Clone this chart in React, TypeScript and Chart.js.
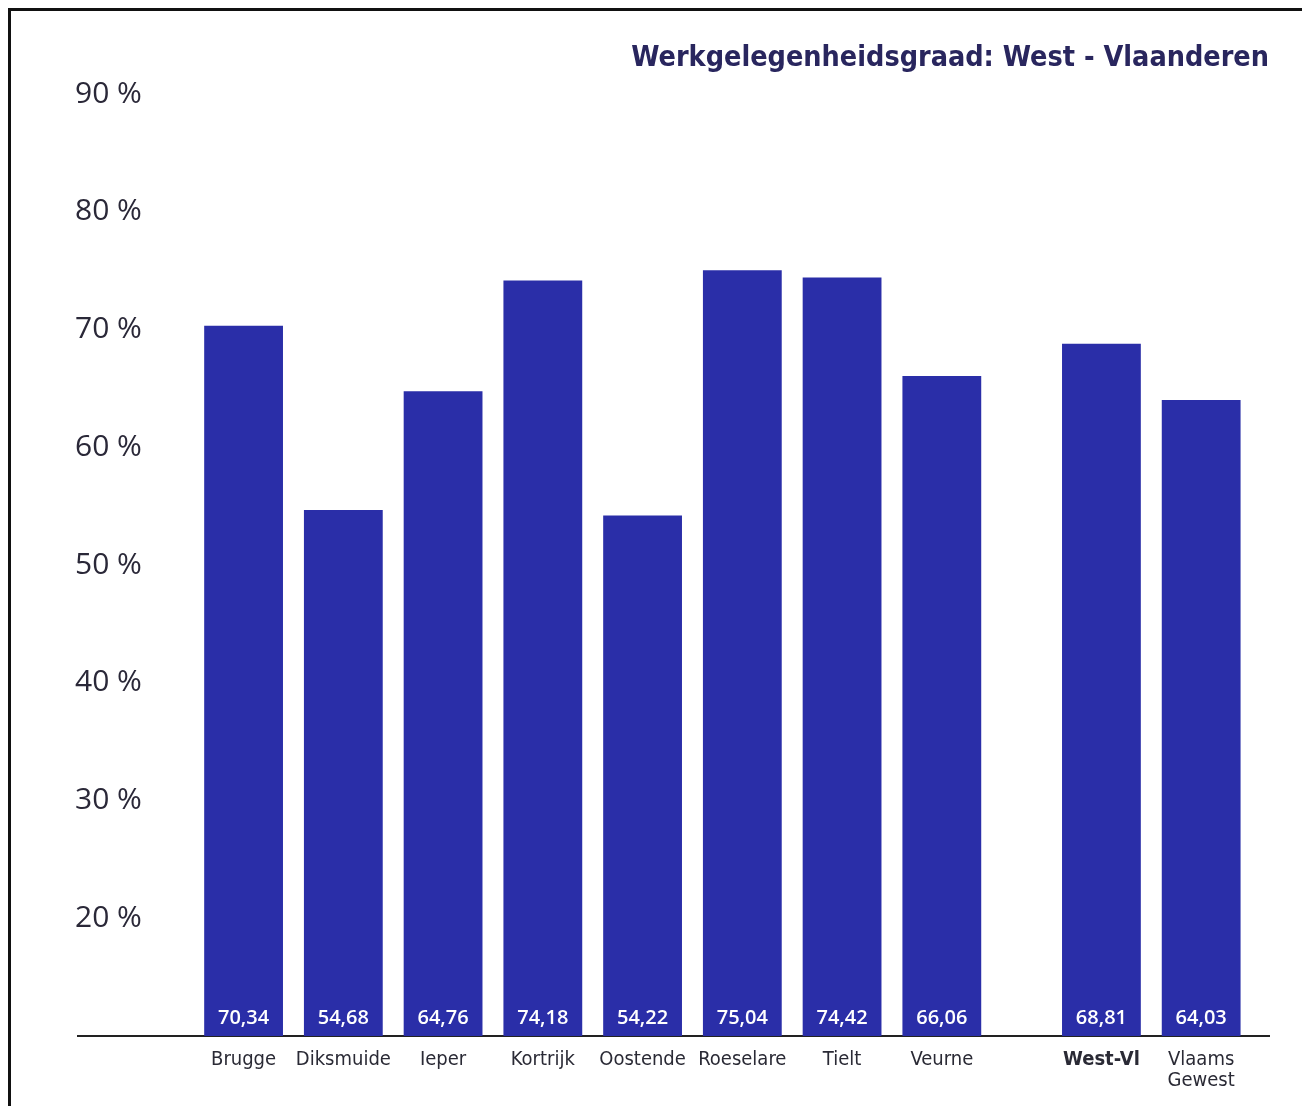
import React, { useEffect, useRef } from "react";
import { Chart, registerables } from "chart.js";

Chart.register(...registerables);

const titleText = "Werkgelegenheidsgraad: West - Vlaanderen";
const categories: (string | string[])[] = [
  "Brugge",
  "Diksmuide",
  "Ieper",
  "Kortrijk",
  "Oostende",
  "Roeselare",
  "Tielt",
  "Veurne",
  "West-Vl",
  ["Vlaams", "Gewest"],
];
const xPositions = [0, 1, 2, 3, 4, 5, 6, 7, 8.6, 9.6];
const values = [70.34, 54.68, 64.76, 74.18, 54.22, 75.04, 74.42, 66.06, 68.81, 64.03];
const valueLabels = ["70,34", "54,68", "64,76", "74,18", "54,22", "75,04", "74,42", "66,06", "68,81", "64,03"];
const yTicks = [20, 30, 40, 50, 60, 70, 80, 90];
const yMin = 10;
const yMax = 90;
const xMin = -1.66;
const xMax = 10.28;

const BAR_COLOR = "#2a2ea8";

const valueLabelPlugin = {
  id: "valueLabelPlugin",
  afterDraw(chart: any) {
    const ctx = chart.ctx;
    const xs = chart.scales.x;
    const ys = chart.scales.y;
    const baseY = ys.getPixelForValue(yMin);
    ctx.save();
    ctx.fillStyle = "#ffffff";
    ctx.font = "600 20px 'Open Sans', sans-serif";
    ctx.textAlign = "center";
    ctx.textBaseline = "middle";
    xPositions.forEach((xv, i) => {
      ctx.fillText(valueLabels[i], xs.getPixelForValue(xv), baseY - 18);
    });
    ctx.restore();
  },
};

export default function App() {
  const canvasRef = useRef<HTMLCanvasElement | null>(null);

  useEffect(() => {
    document.documentElement.style.overflow = "hidden";
    const canvas = canvasRef.current;
    if (!canvas) return;
    const chart = new Chart(canvas, {
      type: "bar",
      data: {
        datasets: [
          {
            data: xPositions.map((x, i) => ({ x, y: values[i] })),
            backgroundColor: BAR_COLOR,
            borderWidth: 0,
            barPercentage: 0.79,
            categoryPercentage: 1,
          },
        ],
      },
      options: {
        responsive: false,
        animation: false,
        layout: { padding: { left: 67, right: 36, top: 0, bottom: 2 } },
        plugins: {
          legend: { display: false },
          tooltip: { enabled: false },
          title: {
            display: true,
            text: titleText,
            align: "end",
            color: "#29265e",
            font: { family: "'DejaVu Sans Condensed', 'DejaVu Sans'", size: 28.5, weight: "bold" },
            padding: { top: 30, bottom: 19 },
          },
        },
        scales: {
          x: {
            type: "linear",
            min: xMin,
            max: xMax,
            offset: false,
            grid: { display: false, drawTicks: false },
            border: { display: true, color: "#222222", width: 2 },
            afterBuildTicks(scale: any) {
              scale.ticks = xPositions.map((v) => ({ value: v }));
            },
            ticks: {
              autoSkip: false,
              maxRotation: 0,
              minRotation: 0,
              padding: 13,
              color: "#2a2a35",
              font: (ctx: any) => ({
                family: "'DejaVu Sans Condensed', 'DejaVu Sans'",
                size: 20,
                weight: ctx.index === 8 ? "bold" : "normal",
                lineHeight: 1.05,
              }),
              callback: (_v: any, i: number) => categories[i],
            },
          },
          y: {
            min: yMin,
            max: yMax,
            grid: { display: false, drawTicks: false },
            border: { display: false },
            afterBuildTicks(scale: any) {
              scale.ticks = yTicks.map((v) => ({ value: v }));
            },
            ticks: {
              mirror: true,
              padding: -1,
              color: "#2a2838",
              font: { family: "'Open Sans'", size: 30 },
              callback: (v: any) => `${v} %`,
            },
          },
        },
      },
      plugins: [valueLabelPlugin],
    });
    return () => chart.destroy();
  }, []);

  return (
    <div
      style={{
        width: 1300,
        height: 1098,
        boxSizing: "border-box",
        borderTop: "3px solid #111",
        borderLeft: "3px solid #111",
        borderRight: "3px solid #111",
        background: "#ffffff",
      }}
    >
      <canvas ref={canvasRef} width={1294} height={1095} style={{ display: "block" }} />
    </div>
  );
}
